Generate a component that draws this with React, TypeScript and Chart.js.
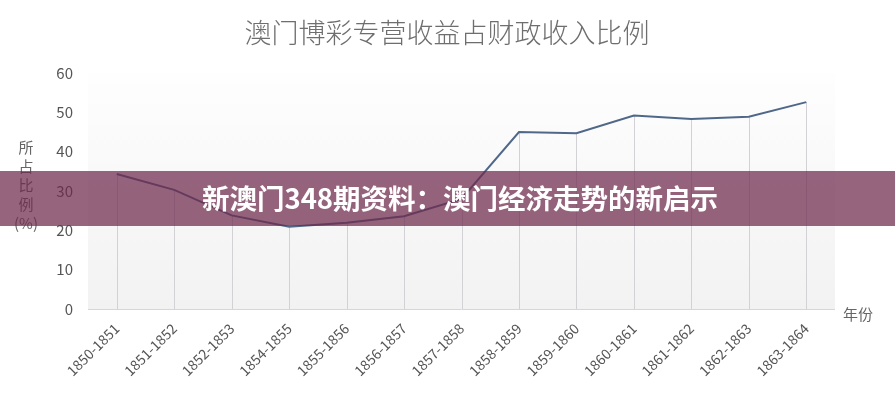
import React, { useEffect, useRef } from "react";
import { Chart, registerables } from "chart.js";

Chart.register(...registerables);

const categories = [
  "1850-1851", "1851-1852", "1852-1853", "1854-1855", "1855-1856", "1856-1857",
  "1857-1858", "1858-1859", "1859-1860", "1860-1861", "1861-1862", "1862-1863", "1863-1864",
];
const shareValues = [34.3, 30.3, 23.8, 20.9, 21.9, 23.6, 28.0, 45.0, 44.7, 49.2, 48.3, 48.9, 52.6];
const yTicks = [0, 10, 20, 30, 40, 50, 60];
const titleText = "澳门博彩专营收益占财政收入比例";
const yTitleChars = ["所", "占", "比", "例", "(%)"];
const xTitleText = "年份";
const bannerText = "新澳门348期资料：澳门经济走势的新启示";

const FONT = "'Noto Sans CJK SC', 'Noto Sans', sans-serif";

const decorPlugin = {
  id: "decor",
  beforeDatasetsDraw(chart: any) {
    const { ctx, chartArea } = chart;
    const { left, right, top, bottom } = chartArea;
    ctx.save();
    const g = ctx.createLinearGradient(0, top, 0, bottom);
    g.addColorStop(0, "#fefefe");
    g.addColorStop(1, "#f2f2f3");
    ctx.fillStyle = g;
    ctx.fillRect(left, top, right - left, bottom - top);
    // drop lines from each point
    const meta = chart.getDatasetMeta(0);
    ctx.strokeStyle = "#d2d2d6";
    ctx.lineWidth = 1;
    meta.data.forEach((pt: any) => {
      const x = Math.round(pt.x) + 0.5;
      ctx.beginPath();
      ctx.moveTo(x, pt.y);
      ctx.lineTo(x, bottom);
      ctx.stroke();
    });
    // bottom axis line
    ctx.strokeStyle = "#d6d6d6";
    ctx.beginPath();
    ctx.moveTo(left, Math.round(bottom) + 0.5);
    ctx.lineTo(right, Math.round(bottom) + 0.5);
    ctx.stroke();
    ctx.restore();
  },
  afterDraw(chart: any) {
    const { ctx, chartArea, width } = chart;
    ctx.save();
    // title
    ctx.fillStyle = "#6e6e6e";
    ctx.font = `300 27px ${FONT}`;
    ctx.textAlign = "center";
    ctx.textBaseline = "middle";
    ctx.fillText(titleText, 447, 33);
    // y title
    ctx.fillStyle = "#666";
    ctx.font = `15px ${FONT}`;
    yTitleChars.forEach((c, i) => {
      ctx.fillText(c, 26, 147 + i * 19);
    });
    // x title
    ctx.textAlign = "left";
    ctx.fillText(xTitleText, chartArea.right + 8, chartArea.bottom + 5);
    // banner
    ctx.fillStyle = "rgba(110,40,75,0.72)";
    ctx.fillRect(0, 171, width, 55);
    ctx.fillStyle = "#ffffff";
    ctx.font = `bold 27.5px ${FONT}`;
    ctx.textAlign = "center";
    ctx.fillText(bannerText, 460, 199);
    ctx.restore();
  },
};

export default function App() {
  const ref = useRef<HTMLCanvasElement | null>(null);
  useEffect(() => {
    document.body.style.margin = "0";
    const chart = new Chart(ref.current as HTMLCanvasElement, {
      type: "line",
      data: {
        labels: categories,
        datasets: [
          {
            data: shareValues,
            borderColor: "#4f6889",
            borderWidth: 2,
            pointRadius: 0,
            tension: 0,
            fill: false,
          },
        ],
      },
      options: {
        animation: false,
        responsive: false,
        maintainAspectRatio: false,
        layout: { padding: { left: 0, top: 73, right: 60, bottom: 0 } },
        plugins: { legend: { display: false }, tooltip: { enabled: false }, title: { display: false } },
        scales: {
          x: {
            offset: true,
            grid: { display: false, drawTicks: false },
            border: { display: false },
            ticks: {
              minRotation: 45,
              maxRotation: 45,
              padding: 11,
              color: "#555",
              font: { family: FONT, size: 14 },
              autoSkip: false,
            },
            afterFit: (s: any) => {
              s.height = 88;
            },
          },
          y: {
            min: 0,
            max: 60,
            afterBuildTicks: (s: any) => {
              s.ticks = yTicks.map((v) => ({ value: v }));
            },
            grid: { display: false, drawTicks: false },
            border: { display: false },
            ticks: {
              padding: 15,
              color: "#555",
              font: { family: FONT, size: 15 },
            },
            afterFit: (s: any) => {
              s.width = 88;
            },
          },
        },
      },
      plugins: [decorPlugin],
    });
    return () => chart.destroy();
  }, []);
  return <canvas ref={ref} width={895} height={397} style={{ display: "block" }} />;
}
